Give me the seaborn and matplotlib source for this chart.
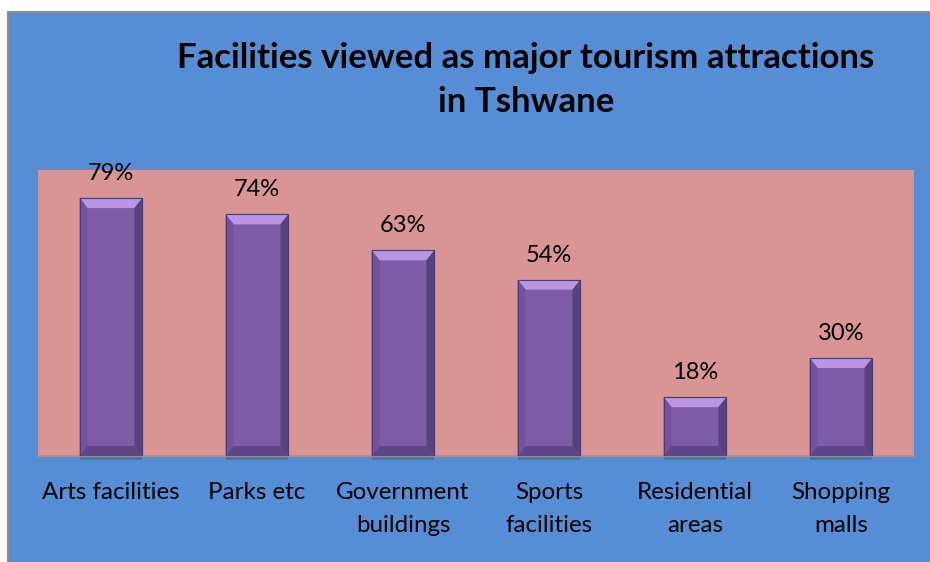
import matplotlib
matplotlib.use("Agg")
import matplotlib.pyplot as plt
import seaborn as sns
import pandas as pd
from matplotlib.patches import Rectangle, Polygon

categories = ["Arts facilities", "Parks etc", "Government\nbuildings",
              "Sports\nfacilities", "Residential\nareas", "Shopping\nmalls"]
shares = [0.79, 0.74, 0.63, 0.54, 0.18, 0.30]
value_labels = ["79%", "74%", "63%", "54%", "18%", "30%"]
title_lines = ["Facilities viewed as major tourism attractions", "in Tshwane"]

sns.set_theme(style="white")
plt.rcParams["font.family"] = ["Lato", "DejaVu Sans"]

W, H = 930, 562
fig = plt.figure(figsize=(W / 100, H / 100), dpi=100, facecolor="white")

# blue chart panel with a grey frame
fig.patches.append(Rectangle((8 / W, -0.01), 930 / W, (H - 12) / H + 0.01,
                             transform=fig.transFigure, facecolor="#558ED5",
                             edgecolor="#8E8E8E", lw=1.5, zorder=-10))

ax = fig.add_axes([38 / W, 1 - 456 / H, 876 / W, 286 / H])
ax.set_facecolor("#D99594")

df = pd.DataFrame({"facility": categories, "share": shares})
sns.barplot(data=df, x="facility", y="share", color="#7E5CA8", saturation=1,
            width=0.43, ax=ax, zorder=2, edgecolor="#4E3A72", linewidth=0.8)

ax.set_xlim(-0.5, 5.5)
ax.set_ylim(0, 0.876)
ax.set_yticks([])
ax.set_xlabel("")
ax.set_ylabel("")
for side in ["top", "left", "right"]:
    ax.spines[side].set_visible(False)
ax.spines["bottom"].set_color("#A89090")
ax.spines["bottom"].set_linewidth(1.2)
ax.tick_params(axis="x", length=0, pad=18.5, labelsize=17.4, colors="black")
for lbl in ax.get_xticklabels():
    lbl.set_linespacing(1.72)

# bevelled look on each bar
fig.canvas.draw()
x0p, y0p = ax.transData.transform((0, 0))
x1p, y1p = ax.transData.transform((1, 1))
px_x = x1p - x0p
px_y = y1p - y0p
dx, dy = 8 / px_x, 10 / px_y

for bar, txt in zip(ax.patches, value_labels):
    x0 = bar.get_x()
    w = bar.get_width()
    h = bar.get_height()
    x1 = x0 + w
    faces = [
        ([(x0, h), (x1, h), (x1 - dx, h - dy), (x0 + dx, h - dy)], "#B995E4"),
        ([(x0, 0), (x0, h), (x0 + dx, h - dy), (x0 + dx, dy)], "#7253A0"),
        ([(x1, 0), (x1, h), (x1 - dx, h - dy), (x1 - dx, dy)], "#57417F"),
        ([(x0, 0), (x1, 0), (x1 - dx, dy), (x0 + dx, dy)], "#5D4688"),
    ]
    for pts, col in faces:
        ax.add_patch(Polygon(pts, closed=True, facecolor=col, edgecolor="none",
                             zorder=3))
    ax.add_patch(Rectangle((x0, 0), w, h, facecolor="none", edgecolor="#4E3A72",
                           lw=0.8, zorder=4))
    # soft shadow under the bar
    ax.add_patch(Rectangle((x0, -4 / px_y), w, 4 / px_y, facecolor="#3E4A70",
                           alpha=0.35, edgecolor="none", zorder=1, clip_on=False))
    ax.annotate(txt, (x0 + w / 2, h), xytext=(0, 13), textcoords="offset points",
                ha="center", va="baseline", fontsize=17, color="black")

for line, base in zip(title_lines, [68, 112]):
    fig.text(526 / W, 1 - base / H, line, ha="center", va="baseline",
             fontsize=25, fontweight="bold", color="black")

fig.savefig("out.png", dpi=100, facecolor=fig.get_facecolor())
